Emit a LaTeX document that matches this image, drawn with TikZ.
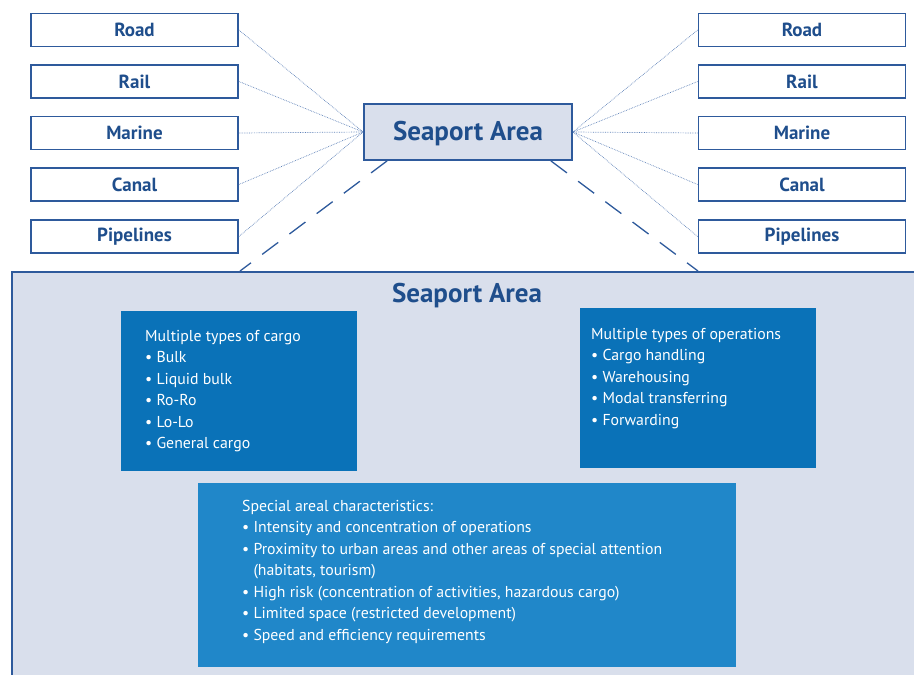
\documentclass[tikz,border=0pt]{standalone}
\usepackage{fontspec}
\setmainfont{PT Sans}
\definecolor{navy}{HTML}{1F4E8C}
\definecolor{bord}{HTML}{2E5A9C}
\definecolor{panelfill}{HTML}{D9DFEC}
\definecolor{darkbox}{HTML}{0A72B8}
\definecolor{lightbox}{HTML}{2087C9}
\definecolor{thinline}{HTML}{5F82B8}
\tikzset{
 mode/.style={draw=bord, line width=1.8pt, fill=white, minimum width=207pt, minimum height=33pt, inner sep=0pt, font=\fontsize{19}{22}\selectfont\bfseries, text=navy},
 hub/.style={draw=bord, line width=1.8pt, fill=panelfill, minimum width=208pt, minimum height=56pt, inner sep=0pt, text height=19pt, text depth=3pt, font=\fontsize{27}{30}\selectfont\bfseries, text=navy},
 link/.style={draw=thinline, line width=0.7pt, densely dotted},
 dashlink/.style={draw=bord, line width=1.3pt, dash pattern=on 20pt off 14pt},
 infobox/.style={draw=none, inner sep=0pt, anchor=north west},
 infotext/.style={anchor=north west, inner sep=0pt, text=white, align=left, font=\fontsize{15.8}{21.5}\selectfont},
 paneltitle/.style={font=\fontsize{27}{30}\selectfont\bfseries, text=navy, inner sep=0pt},
}
\begin{document}
\begin{tikzpicture}[x=1pt,y=-1pt]
\useasboundingbox (0,0) rectangle (914,675);
\clip (0,0) rectangle (914,675);
% panel
\node[draw=bord, line width=1.8pt, fill=panelfill, anchor=north west, minimum width=930pt, minimum height=430pt, inner sep=0pt] (panel) at (11,271) {};
\node[paneltitle] (ptitle) at (467,295.5) {Seaport Area};
% hub
\node[hub] (sea) at (468,132) {Seaport Area};
% modes left
\node[mode] (lroad) at (134.5,30) {Road};
\node[mode] (lrail) at (134.5,81.5) {Rail};
\node[mode] (lmarine) at (134.5,133) {Marine};
\node[mode] (lcanal) at (134.5,184.5) {Canal};
\node[mode] (lpipe) at (134.5,236.5) {Pipelines};
% modes right
\node[mode] (rroad) at (802,30) {Road};
\node[mode] (rrail) at (802,81.5) {Rail};
\node[mode] (rmarine) at (802,133) {Marine};
\node[mode] (rcanal) at (802,184.5) {Canal};
\node[mode] (rpipe) at (802,236.5) {Pipelines};
% dotted links
\foreach \n in {lroad,lrail,lmarine,lcanal,lpipe}{
  \draw[link] (\n.east) -- (sea.west);
}
\foreach \n in {rroad,rrail,rmarine,rcanal,rpipe}{
  \draw[link] (\n.west) -- (sea.east);
}
% dashed links
\coordinate (dl) at (240,271);
\coordinate (dr) at (698,271);
\draw[dashlink] ([xshift=24pt]sea.south west) -- (dl);
\draw[dashlink] ([xshift=-22pt]sea.south east) -- (dr);
% info boxes
\node[infobox, fill=darkbox, minimum width=236pt, minimum height=160pt] (cargo) at (121,311) {};
\node[infobox, fill=darkbox, minimum width=236pt, minimum height=160pt] (ops) at (580,308) {};
\node[infobox, fill=lightbox, minimum width=538pt, minimum height=184pt] (special) at (198,483) {};
\node[infotext] (cargotext) at (145,330) {Multiple types of cargo\\
\textbullet\ Bulk\\
\textbullet\ Liquid bulk\\
\textbullet\ Ro-Ro\\
\textbullet\ Lo-Lo\\
\textbullet\ General cargo};
\node[infotext] (opstext) at (591,328) {Multiple types of operations\\
\textbullet\ Cargo handling\\
\textbullet\ Warehousing\\
\textbullet\ Modal transferring\\
\textbullet\ Forwarding};
\node[infotext] (spectext) at (242,500) {Special areal characteristics:\\
\textbullet\ Intensity and concentration of operations\\
\textbullet\ Proximity to urban areas and other areas of special attention\\
\phantom{\textbullet\ }(habitats, tourism)\\
\textbullet\ High risk (concentration of activities, hazardous cargo)\\
\textbullet\ Limited space (restricted development)\\
\textbullet\ Speed and efficiency requirements};
\end{tikzpicture}
\end{document}
